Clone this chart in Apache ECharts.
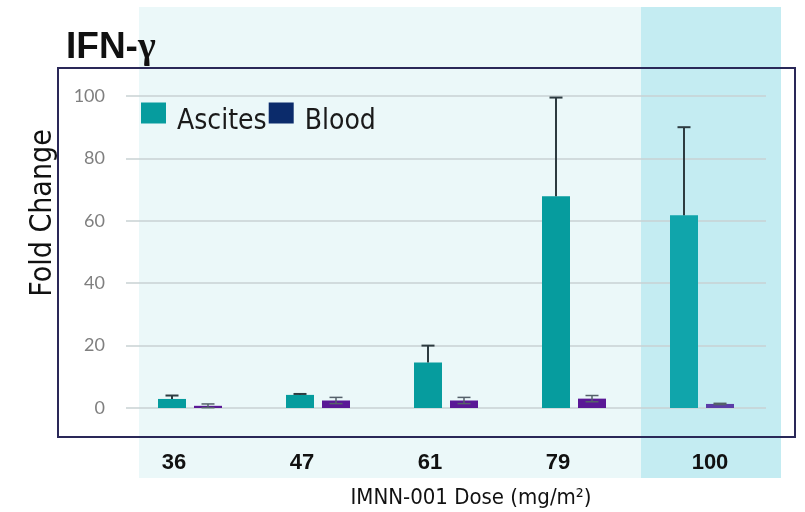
<!DOCTYPE html>
<html><head><meta charset="utf-8">
<script src="https://cdn.jsdelivr.net/npm/echarts@6/dist/echarts.min.js"></script>
<style>html,body{margin:0;padding:0;background:#fff}#c{width:805px;height:512px}</style>
</head><body><div id="c"></div>
<script>
const categories = ['36', '47', '61', '79', '100'];
const ascites = [2.9, 4.2, 14.6, 67.9, 61.8];
const ascitesErr = [1.1, 0.3, 5.4, 31.6, 28.2];
const blood = [0.7, 2.4, 2.4, 3.0, 1.3];
const bloodErr = [0.6, 1.0, 1.0, 1.0, 0.2];
const yTicks = [0, 20, 40, 60, 80, 100];

const FONT = '"DejaVu Sans Condensed", "DejaVu Sans"';
const chart = echarts.init(document.getElementById('c'));
const BW = 28, GAP = 8, OFF = (BW + GAP) / 2;

function errRender(offset, color, width, both) {
  return function (params, api) {
    const i = api.value(0), v = api.value(1), e = api.value(2);
    const top = api.coord([i, v + e]);
    const bot = api.coord([i, both ? v - e : v]);
    const x = top[0] + offset, cw = 6.5;
    const st = { stroke: color, lineWidth: width };
    return { type: 'group', children: [
      { type: 'line', shape: { x1: x, y1: bot[1], x2: x, y2: top[1] }, style: st },
      { type: 'line', shape: { x1: x - cw, y1: top[1], x2: x + cw, y2: top[1] }, style: st },
      both ? { type: 'line', shape: { x1: x - cw, y1: bot[1], x2: x + cw, y2: bot[1] }, style: st } : null
    ].filter(Boolean) };
  };
}

const option = {
  animation: false,
  graphic: [
    { type: 'rect', z: -10, shape: { x: 139, y: 7, width: 642, height: 471 }, style: { fill: '#ebf8f9' } },
    { type: 'rect', z: -9, shape: { x: 641, y: 7, width: 140, height: 471 }, style: { fill: '#c4ecf2' } },
    { type: 'rect', z: 100, shape: { x: 58, y: 68, width: 737, height: 369 }, style: { fill: 'none', stroke: '#2a2858', lineWidth: 2 } },
    { type: 'text', z: 100, x: 43, y: 213, rotation: Math.PI / 2,
      style: { text: 'Fold Change', fontFamily: FONT, fontSize: 30, fill: '#111', align: 'center', verticalAlign: 'middle' } }
  ],
  title: {
    text: '{a|IFN-}{g|γ}', left: 61, top: 24,
    textStyle: { rich: {
      a: { fontFamily: 'Liberation Sans', fontWeight: 'bold', fontSize: 37, color: '#111' },
      g: { fontFamily: 'Liberation Serif', fontSize: 38, color: '#111' }
    } }
  },
  legend: {
    left: 141, top: 97, padding: 0, itemWidth: 25, itemHeight: 21, itemGap: 2, icon: 'rect',
    formatter: '{s| }\n{t|{name}}',
    textStyle: { fontFamily: FONT, fontSize: 28, color: '#1a1a1a',
      rich: { s: { fontSize: 4, lineHeight: 18 }, t: { fontFamily: FONT, fontSize: 28, lineHeight: 28, color: '#1a1a1a', padding: [0, 0, 0, 6] } } },
    data: ['Ascites', 'Blood']
  },
  grid: { left: 126, right: 39, top: 96, bottom: 104, outerBoundsMode: 'none' },
  xAxis: {
    type: 'category',
    data: categories.map((c, i) => ({ value: c, textStyle: { padding: i < 4 ? [0, 32, 0, 0] : [0, 0, 0, 16] } })),
    axisLine: { show: false }, axisTick: { show: false },
    axisLabel: { margin: 44, fontFamily: 'Liberation Sans', fontWeight: 'bold', fontSize: 22, color: '#111' },
    name: 'IMNN-001 Dose (mg/m²)', nameLocation: 'middle', nameGap: 79,
    nameTextStyle: { fontFamily: FONT, fontSize: 22, color: '#111', padding: [0, 0, 0, 50] }
  },
  yAxis: {
    type: 'value', min: 0, max: 100, interval: 20,
    axisLine: { show: false }, axisTick: { show: false },
    axisLabel: { margin: 21, fontFamily: 'Lato', fontSize: 18, color: '#7f7f7f',
      formatter: v => yTicks.includes(v) ? String(v) : '' },
    splitLine: { lineStyle: { color: '#c8d2d3', width: 1.5 } }
  },
  series: [
    { name: 'Ascites', type: 'bar', barWidth: BW, barGap: (GAP / BW * 100) + '%',
      itemStyle: { color: '#069c9e' },
      data: ascites.map((v, i) => ({ value: v, itemStyle: { color: i === 4 ? '#10a5ab' : '#069c9e' } })) },
    { name: 'Blood', type: 'bar', barWidth: BW,
      itemStyle: { color: '#0b2b6b' },
      data: blood.map((v, i) => ({ value: v, itemStyle: { color: i === 4 ? '#5b3ca8' : '#5a1896' } })) },
    { type: 'custom', z: 5, renderItem: errRender(-OFF, '#2d3b40', 2, false),
      data: ascites.map((v, i) => [i, v, ascitesErr[i]]) },
    { type: 'custom', z: 5, renderItem: errRender(OFF, '#55606a', 1.5, true),
      data: blood.map((v, i) => [i, v, bloodErr[i]]) }
  ]
};
chart.setOption(option);
</script></body></html>
